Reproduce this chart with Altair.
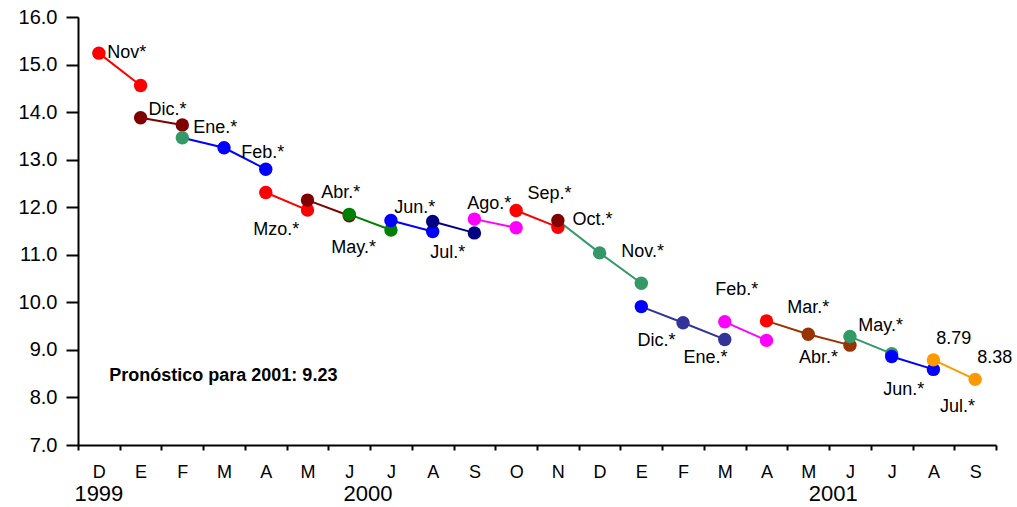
import json
import altair as alt
import pandas as pd

# ---------------- data ----------------
month_letters = ["D", "E", "F", "M", "A", "M", "J", "J", "A", "S", "O", "N",
                 "D", "E", "F", "M", "A", "M", "J", "J", "A", "S"]

# line segments (segment id, month index, value)
seg_id = [0, 0, 1, 1, 2, 2, 2, 3, 3, 4, 4, 5, 5, 6, 6, 7, 7, 8, 8, 9, 9,
          10, 10, 10, 11, 11, 11, 12, 12, 13, 13, 13, 14, 14, 15, 15, 16, 16]
seg_k = [0, 1, 1, 2, 2, 3, 4, 4, 5, 5, 6, 6, 7, 7, 8, 8, 9, 9, 10, 10, 11,
         11, 12, 13, 13, 14, 15, 15, 16, 16, 17, 18, 18, 19, 19, 20, 20, 21]
seg_v = [15.24, 14.56, 13.88, 13.73, 13.46, 13.25, 12.80, 12.31, 11.94,
         12.15, 11.82, 11.85, 11.52, 11.72, 11.49, 11.70, 11.46, 11.75, 11.57,
         11.93, 11.58, 11.72, 11.04, 10.40, 9.91, 9.57, 9.22, 9.59, 9.20,
         9.61, 9.33, 9.10, 9.28, 8.92, 8.86, 8.59, 8.79, 8.38]
seg_colors = ["#FF0000", "#800000", "#0000FF", "#FF0000", "#800000", "#008000",
              "#0000FF", "#000080", "#FF00FF", "#FF0000", "#339966", "#333399",
              "#FF00FF", "#993300", "#339966", "#0000FF", "#FF9900"]

# markers (month index, value, colour) in drawing order
pt_k = [0, 1, 1, 2, 3, 4, 2, 4, 5, 5, 6, 6, 7, 7, 8, 8, 9, 9, 10, 10, 11, 11,
        12, 13, 13, 14, 15, 15, 16, 16, 17, 18, 18, 19, 19, 20, 20, 21]
pt_v = [15.24, 14.56, 13.88, 13.73, 13.25, 12.80, 13.46, 12.31, 11.94, 12.15,
        11.82, 11.85, 11.52, 11.72, 11.49, 11.70, 11.46, 11.75, 11.57, 11.93,
        11.58, 11.72, 11.04, 10.40, 9.91, 9.57, 9.22, 9.59, 9.20, 9.61, 9.33,
        9.10, 9.28, 8.92, 8.86, 8.59, 8.79, 8.38]
pt_c = ["#FF0000", "#FF0000", "#800000", "#800000", "#0000FF", "#0000FF",
        "#339966", "#FF0000", "#FF0000", "#800000", "#800000", "#008000",
        "#008000", "#0000FF", "#0000FF", "#000080", "#000080", "#FF00FF",
        "#FF00FF", "#FF0000", "#FF0000", "#800000", "#339966", "#339966",
        "#0000FF", "#333399", "#333399", "#FF00FF", "#FF00FF", "#FF0000",
        "#993300", "#993300", "#339966", "#339966", "#0000FF", "#0000FF",
        "#FF9900", "#FF9900"]

# labels (text, x anchor in month units, y value)
lab_text = ["Nov*", "Dic.*", "Ene.*", "Feb.*", "Mzo.*", "Abr.*", "May.*",
            "Jun.*", "Jul.*", "Ago.*", "Sep.*", "Oct.*", "Nov.*", "Dic.*",
            "Ene.*", "Feb.*", "Mar.*", "Abr.*", "May.*", "Jun.*", "8.79",
            "8.38", "Jul.*"]
lab_x = [0.20, 1.19, 2.26, 3.41, 3.70, 5.33, 5.57, 7.08, 7.94, 8.83, 10.27,
         11.35, 12.52, 12.91, 14.01, 14.77, 16.50, 16.78, 18.20, 18.80, 20.07,
         21.05, 20.16]
lab_v = [15.24, 14.04, 13.67, 13.14, 11.52, 12.30, 11.14, 11.98, 11.04, 12.07,
         12.28, 11.73, 11.06, 9.19, 8.83, 10.26, 9.88, 8.83, 9.50, 8.16, 9.23,
         8.83, 7.80]

note_text = ["Pronóstico para 2001: 9.23"]
note_x = [0.25]
note_v = [8.45]

year_text = ["1999", "2000", "2001"]
year_x = [0.0, 6.45, 17.6]
year_v = [5.97, 5.97, 5.97]

# ---------------- chart ----------------
FONT = "Liberation Sans"

lines_df = pd.DataFrame({"seg": seg_id, "k": seg_k, "v": seg_v,
                         "c": [seg_colors[s] for s in seg_id]})
pts_df = pd.DataFrame({"k": pt_k, "v": pt_v, "c": pt_c, "o": list(range(len(pt_k)))})
lab_df = pd.DataFrame({"t": lab_text, "x": lab_x, "v": lab_v})
note_df = pd.DataFrame({"t": note_text, "x": note_x, "v": note_v})
year_df = pd.DataFrame({"t": year_text, "x": year_x, "v": year_v})

xscale = alt.Scale(domain=[-0.5, 21.5], nice=False, zero=False)
yscale = alt.Scale(domain=[7, 16], nice=False, zero=False)

letters_js = json.dumps(month_letters)
xaxis = alt.Axis(
    values=[i - 0.5 for i in range(23)],
    labelExpr=f"datum.value < 21 ? {letters_js}[round(datum.value + 0.5)] : ''",
    labelOffset=20.86, labelFlush=False, labelOverlap=False, labelBound=False,
    tickSize=5, tickWidth=2, tickColor="black", domainColor="black", domainWidth=2,
    labelFontSize=18, labelFont=FONT, labelColor="black", labelPadding=13,
    grid=False, title=None,
)
yaxis = alt.Axis(
    values=list(range(7, 17)), format=".1f",
    tickSize=12, tickWidth=2, tickColor="black", domainColor="black", domainWidth=2,
    labelFontSize=20, labelFont=FONT, labelColor="black", labelPadding=9,
    grid=False, title=None,
)

lines = alt.Chart(lines_df).mark_line(strokeWidth=2).encode(
    x=alt.X("k:Q", scale=xscale, axis=xaxis),
    y=alt.Y("v:Q", scale=yscale, axis=yaxis),
    detail="seg:N",
    color=alt.Color("c:N", scale=None),
)

points = alt.Chart(pts_df).mark_point(filled=True, size=180, opacity=1).encode(
    x=alt.X("k:Q", scale=xscale),
    y=alt.Y("v:Q", scale=yscale),
    color=alt.Color("c:N", scale=None),
    order="o:Q",
)

labels = alt.Chart(lab_df).mark_text(
    align="left", baseline="middle", fontSize=18, font=FONT, color="black"
).encode(x=alt.X("x:Q", scale=xscale), y=alt.Y("v:Q", scale=yscale), text="t:N")

note = alt.Chart(note_df).mark_text(
    align="left", baseline="middle", fontSize=18, font=FONT, fontWeight="bold", color="black"
).encode(x=alt.X("x:Q", scale=xscale), y=alt.Y("v:Q", scale=yscale), text="t:N")

years = alt.Chart(year_df).mark_text(
    align="center", baseline="middle", fontSize=22, font=FONT, color="black"
).encode(x=alt.X("x:Q", scale=xscale), y=alt.Y("v:Q", scale=yscale), text="t:N")

chart = alt.layer(lines, points, labels, note, years).properties(
    width=918, height=428,
    autosize=alt.AutoSizeParams(type="none"),
    padding={"left": 78, "top": 17, "right": 21, "bottom": 62},
    background="white",
).configure_view(stroke=None)

chart.save("out.html", embed_options={"renderer": "svg", "actions": False})
